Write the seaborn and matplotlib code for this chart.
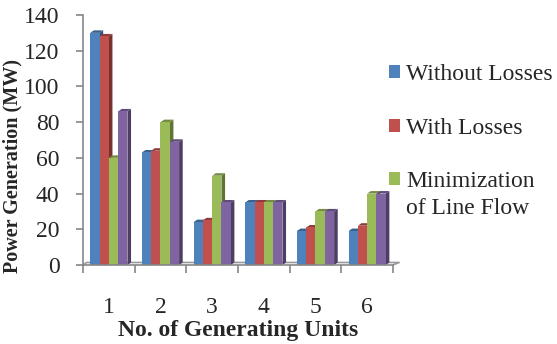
import pandas as pd
import seaborn as sns
import matplotlib.pyplot as plt
from matplotlib.patches import Polygon
from matplotlib.ticker import FixedLocator
import matplotlib.colors as mcolors

# Data
UNITS = ["1", "2", "3", "4", "5", "6"]
WITHOUT_LOSSES = [130, 63, 24, 35, 19, 19]
WITH_LOSSES = [128, 64, 25, 35, 21, 22]
MIN_LINE_FLOW = [60, 80, 50, 35, 30, 40]
FOURTH_CASE = [86, 69, 35, 35, 30, 40]

SERIES = ["Without Losses", "With Losses", "Minimization", "Case 4"]
COLORS = ["#4F81BD", "#C0504D", "#9BBB59", "#8064A2"]
FS = 17


def shade(color, f):
    r, g, b = mcolors.to_rgb(color)
    return (r * f, g * f, b * f)


def main():
    frames = []
    for name, vals in zip(SERIES, [WITHOUT_LOSSES, WITH_LOSSES, MIN_LINE_FLOW, FOURTH_CASE]):
        frames.append(pd.DataFrame({"unit": UNITS, "power": vals, "series": name}))
    df = pd.concat(frames, ignore_index=True)

    sns.set_theme(style="white")
    plt.rcParams["font.family"] = ["Liberation Serif", "DejaVu Serif"]

    fig = plt.figure(figsize=(5.57, 3.44), dpi=100)
    ax = fig.add_axes([83 / 557, 0.2297, 310 / 557, 0.7267])

    sns.barplot(data=df, x="unit", y="power", hue="series", palette=COLORS,
                width=0.72, saturation=1, ax=ax, edgecolor="none")

    # fake 3D depth on each bar (side + top faces), behind neighbouring bars
    dx, dy = 0.07, 1.4
    for p in list(ax.patches):
        h = p.get_height()
        if h <= 0:
            continue
        p.set_zorder(2)
        x0, w = p.get_x(), p.get_width()
        col = p.get_facecolor()
        side = Polygon([(x0 + w, 0), (x0 + w + dx, dy), (x0 + w + dx, h + dy), (x0 + w, h)],
                       closed=True, facecolor=shade(col, 0.62), edgecolor="none", zorder=1.5)
        top = Polygon([(x0, h), (x0 + dx, h + dy), (x0 + w + dx, h + dy), (x0 + w, h)],
                      closed=True, facecolor=shade(col, 0.75), edgecolor="none", zorder=1.5)
        ax.add_patch(side)
        ax.add_patch(top)

    # floor edge
    ax.plot([-0.5, -0.5 + dx, 5.5 + dx + 0.05, 5.5], [0, dy, dy, 0],
            color="#9a9a9a", lw=1.2, zorder=1, clip_on=False)

    ax.set_ylim(0, 140)
    ax.set_xlim(-0.5, 5.5)
    ax.set_yticks(range(0, 141, 20))
    ax.tick_params(axis="y", labelsize=FS, length=5, color="#868686", width=1.2, left=True, pad=12)
    ax.tick_params(axis="x", which="major", labelsize=FS, length=0, pad=23)
    ax.xaxis.set_minor_locator(FixedLocator([i - 0.5 for i in range(7)]))
    ax.tick_params(axis="x", which="minor", length=6, color="#868686", width=1.2, bottom=True)

    for side in ["top", "right"]:
        ax.spines[side].set_visible(False)
    for side in ["left", "bottom"]:
        ax.spines[side].set_color("#868686")
        ax.spines[side].set_linewidth(1.2)

    ax.set_xlabel("No. of Generating Units", fontsize=FS, fontweight="bold", labelpad=1.5)
    ax.set_ylabel("Power Generation (MW)", fontsize=14.5, fontweight="bold")
    ax.yaxis.set_label_coords((22 - 83) / 310, 0.396)

    handles, labels = ax.get_legend_handles_labels()
    leg = ax.legend(handles[:3], labels[:3], loc="upper left",
                    bbox_to_anchor=(389 / 557, (344 - 64) / 344), bbox_transform=fig.transFigure,
                    frameon=False, fontsize=FS, handlelength=0.47, handleheight=0.47,
                    handletextpad=0.25, labelspacing=1.38, borderaxespad=0, borderpad=0)

    fig.canvas.draw()
    bb = leg.get_texts()[2].get_window_extent()
    x_t, y_t = fig.transFigure.inverted().transform((bb.x0, bb.y0))
    fig.text(x_t, y_t - 6 / 344, "of Line Flow", fontsize=FS, ha="left", va="top")

    plt.savefig("out.png", dpi=100)


if __name__ == "__main__":
    main()
